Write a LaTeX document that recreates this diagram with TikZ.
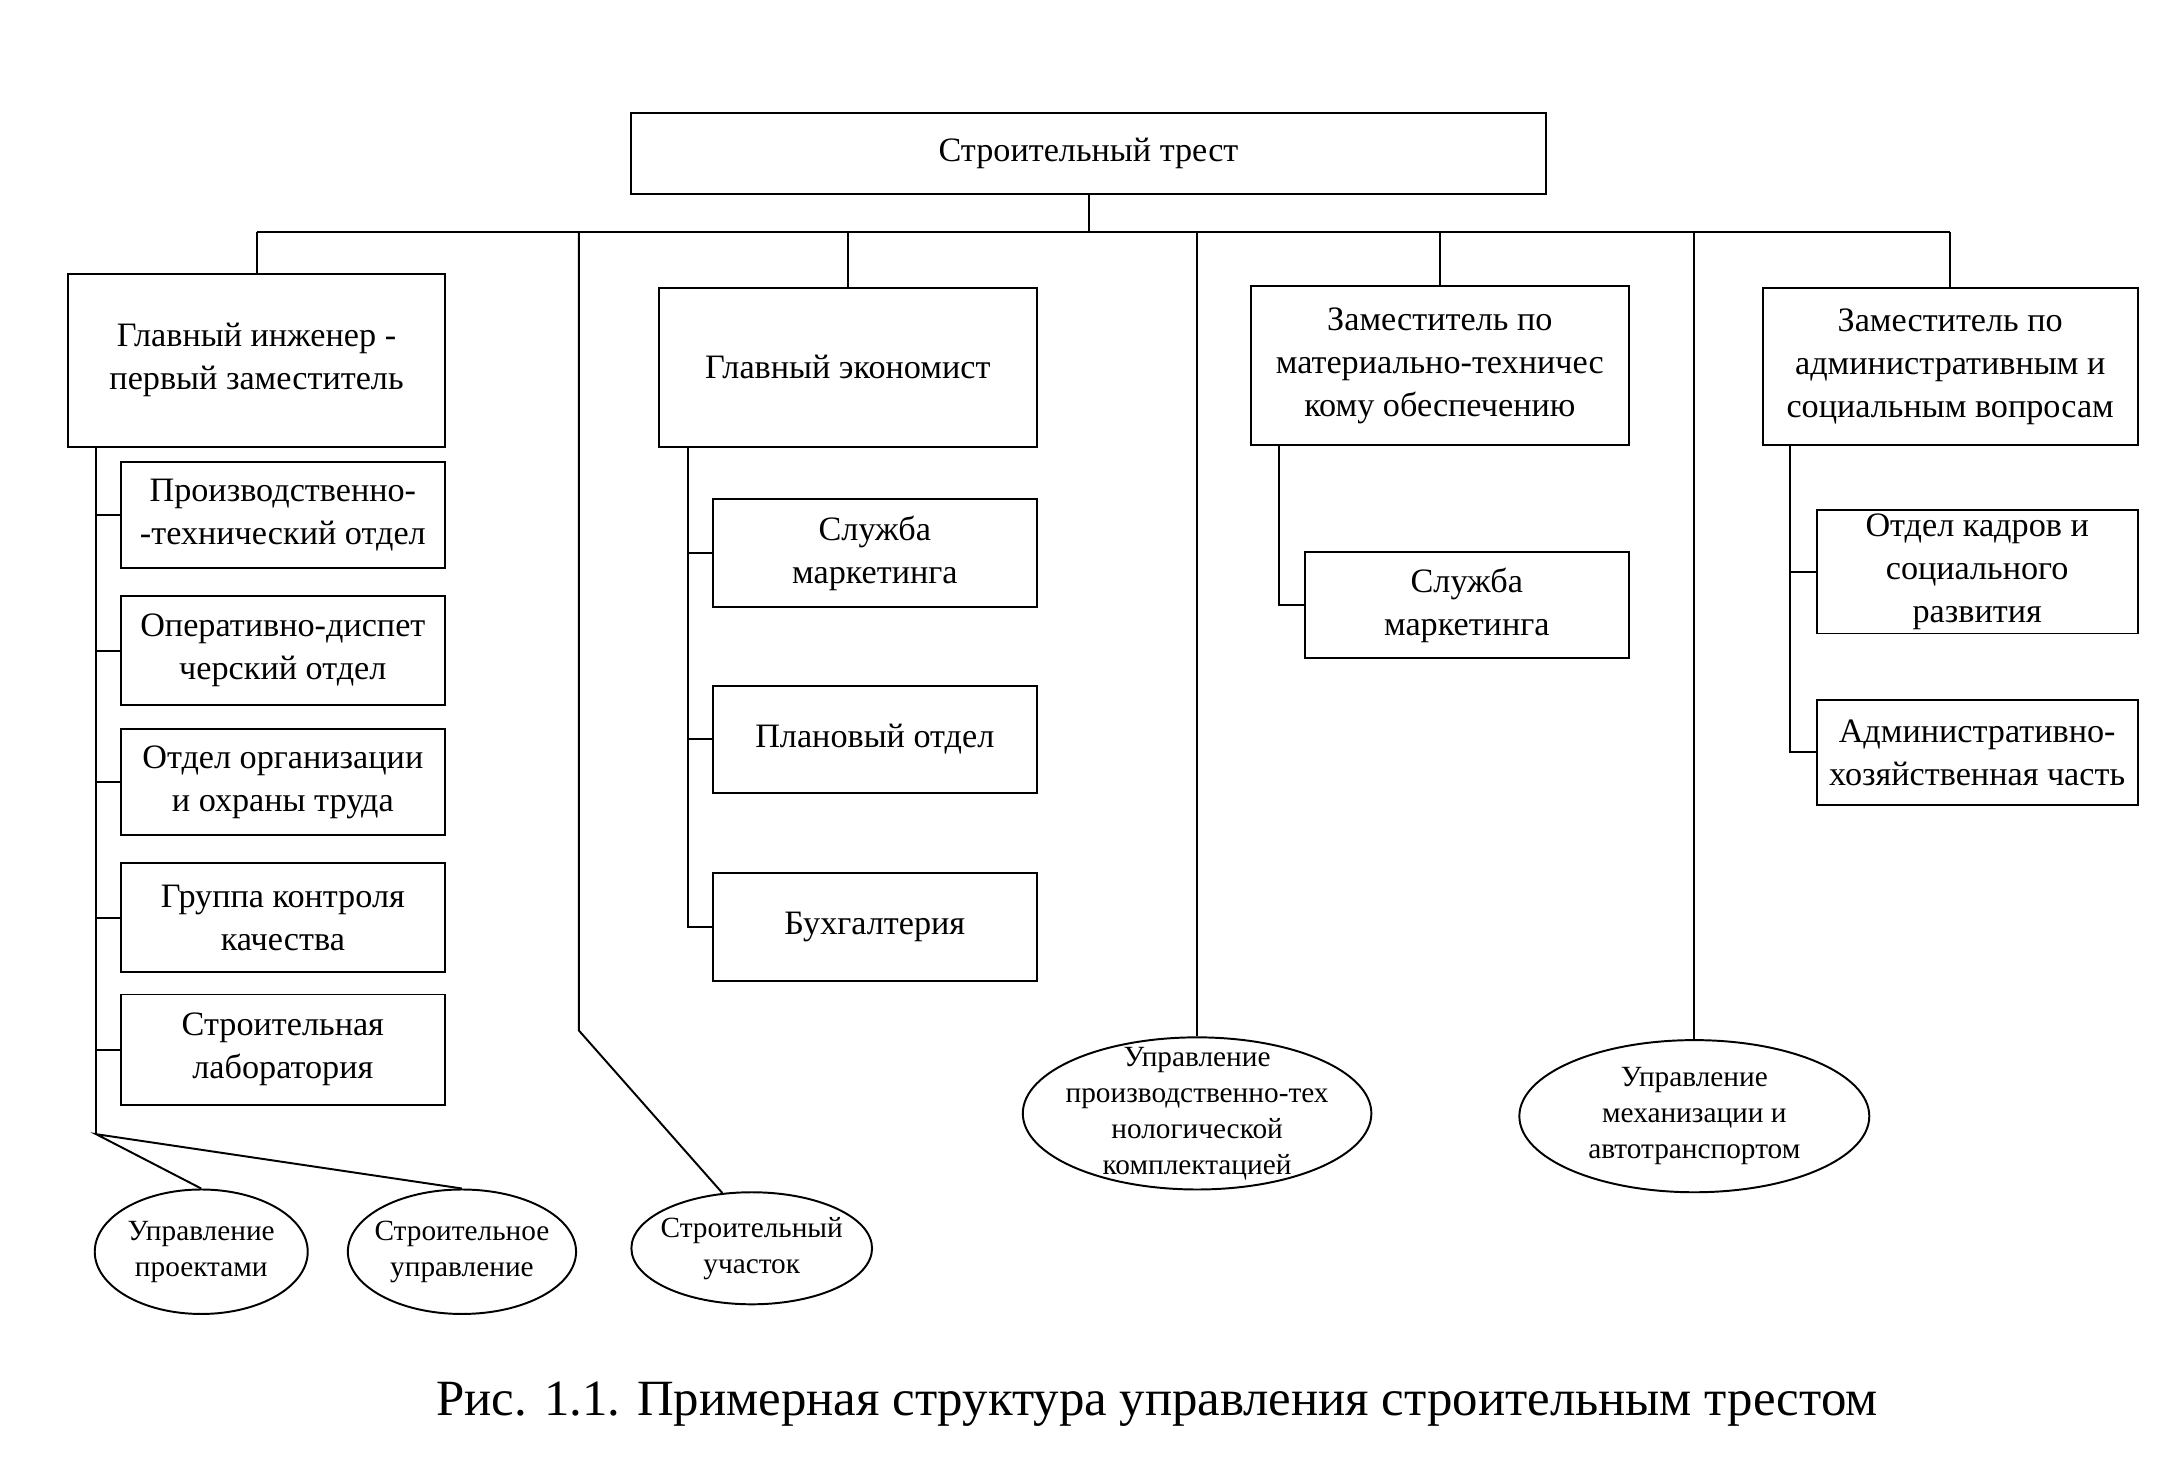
\documentclass[tikz,border=0pt]{standalone}
\usepackage{fontspec}
\setmainfont{Liberation Serif}
\usetikzlibrary{shapes.geometric}

\tikzset{
  box/.style 2 args={draw, line width=0.8pt, minimum width=#1*0.0199cm, minimum height=#2*0.0199cm,
    inner sep=0pt, align=center, font=\fontsize{14}{17.6}\selectfont},
  oval/.style 2 args={draw, ellipse, line width=0.8pt, minimum width=#1*0.0199cm, minimum height=#2*0.0199cm,
    inner xsep=-10pt, inner ysep=-8pt, align=center, font=\fontsize{12}{14.7}\selectfont},
  link/.style={line width=0.8pt}
}

\begin{document}
\begin{tikzpicture}[x=0.0199cm,y=-0.0199cm]
  \useasboundingbox (-0.5,0) rectangle (1567.7,1070);

  \node (trest) at (786.5,111) [box={661}{58}] {Строительный трест};

  % главный инженер
  \node (gi) at (185,260.5) [box={272}{125}] {Главный инженер -\\первый заместитель};
  \node (pto) at (204,372.5) [box={234}{77}] {Производственно-\\-технический отдел};
  \node (ods) at (204,470.5) [box={234}{79}] {Оперативно-диспет\\черский отдел};
  \node (oot) at (204,565.5) [box={234}{77}] {Отдел организации\\и охраны труда};
  \node (gkk) at (204,663.5) [box={234}{79}] {Группа контроля\\качества};
  \node (lab) at (204,759) [box={234}{80}] {Строительная\\лаборатория};
  \node (proj) at (145,905) [oval={154}{90}] {Управление\\проектами};
  \node (su) at (333.5,905) [oval={165}{90}] {Строительное\\управление};
  \node (uch) at (543,902.5) [oval={174}{81}] {Строительный\\участок};

  % главный экономист
  \node (ge) at (612.5,265.5) [box={273}{115}] {Главный экономист};
  \node (mark) at (632,400) [box={234}{78}] {Служба\\маркетинга};
  \node (plan) at (632,534.5) [box={234}{77}] {Плановый отдел};
  \node (buh) at (632,670) [box={234}{78}] {Бухгалтерия};

  % МТО
  \node (zmto) at (1040.5,264.5) [box={273}{115}] {Заместитель по\\материально-техничес\\кому обеспечению};
  \node (mark2) at (1060,437.5) [box={234}{77}] {Служба\\маркетинга};
  \node (ptk) at (865,805) [oval={252}{110}] {Управление\\производственно-тех\\нологической\\комплектацией};
  \node (meh) at (1224.5,807) [oval={253}{110}] {Управление\\механизации и\\автотранспортом};

  % адм. вопросы
  \node (zas) at (1409.5,265) [box={271}{114}] {Заместитель по\\административным и\\социальным вопросам};
  \node (kadr) at (1429,413.5) [box={232}{89}] {Отдел кадров и\\социального\\развития};
  \node (ahch) at (1429,544) [box={232}{76}] {Административно-\\хозяйственная часть};

  \node (cap) at (836,1015) [font=\fontsize{20.8}{25}\selectfont] {Рис. 1.1. Примерная структура управления строительным трестом};

  \coordinate (bus) at (0,168);
  \coordinate (giS) at (69,820);
  \coordinate (geS) at (497,0);
  \coordinate (zmS) at (924,0);
  \coordinate (zaS) at (1294,0);
  \coordinate (bend) at (418,745);

  \draw[link] (trest.south) -- (trest.south |- bus);
  \draw[link] (gi.north |- bus) -- (zas.north |- bus);
  \foreach \n in {gi,ge,zmto,zas,ptk,meh}
    \draw[link] (\n.north |- bus) -- (\n.north);
  \draw[link] (bend |- bus) -- (bend) -- (uch.118);

  \draw[link] (gi.south -| giS) -- (giS);
  \foreach \n in {pto,ods,oot,gkk,lab}
    \draw[link] (\n.west -| giS) -- (\n.west);
  \draw[link] (proj.north) -- (giS) -- (su.north);

  \draw[link] (ge.south -| geS) |- (buh.west);
  \foreach \n in {mark,plan}
    \draw[link] (\n.west -| geS) -- (\n.west);
  \draw[link] (zmto.south -| zmS) |- (mark2.west);
  \draw[link] (zas.south -| zaS) |- (ahch.west);
  \draw[link] (kadr.west -| zaS) -- (kadr.west);
\end{tikzpicture}
\end{document}
